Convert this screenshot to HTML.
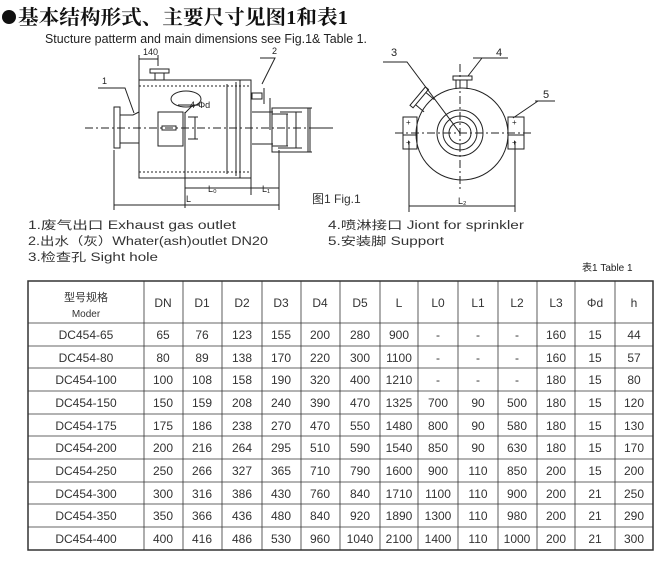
<!DOCTYPE html>
<html><head><meta charset="utf-8"><style>
html,body{margin:0;padding:0;background:#fff;}
body{width:655px;height:564px;position:relative;overflow:hidden;font-family:"Liberation Sans","Noto Sans CJK SC",sans-serif;color:#222;}
svg{position:absolute;left:0;top:0;}
</style></head><body>
<svg width="655" height="564" viewBox="0 0 655 564" xmlns="http://www.w3.org/2000/svg" font-family="Liberation Sans, Noto Sans CJK SC, sans-serif">
<circle cx="9" cy="17" r="7" fill="#111"/>
<text x="18" y="24" font-family="Liberation Serif, Noto Serif CJK SC, serif" font-weight="bold" font-size="20" fill="#111" textLength="330" lengthAdjust="spacingAndGlyphs">基本结构形式、主要尺寸见图1和表1</text>
<text x="45" y="43" font-size="12.5" fill="#222" textLength="322" lengthAdjust="spacingAndGlyphs">Stucture patterm and main dimensions see Fig.1&amp; Table 1.</text>

<g stroke="#222" stroke-width="1" fill="none">
<line x1="85" y1="128" x2="334" y2="128" stroke-dasharray="8,3,2,3"/>
<rect x="139" y="80" width="112" height="98"/>
<line x1="139" y1="86" x2="251" y2="86" stroke-dasharray="2,2"/>
<line x1="139" y1="172" x2="251" y2="172" stroke-dasharray="2,2"/>
<line x1="240" y1="80" x2="240" y2="178"/>
<rect x="150" y="69" width="19" height="4"/>
<line x1="155" y1="73" x2="155" y2="80"/><line x1="164" y1="73" x2="164" y2="80"/>
<line x1="139" y1="55" x2="139" y2="80"/><line x1="158" y1="55" x2="158" y2="66"/>
<line x1="139" y1="59" x2="158" y2="59"/>
<rect x="114" y="107" width="6" height="41"/>
<path d="M120 115 L133 115 L139 112 M120 143 L139 143"/>
<ellipse cx="186" cy="99" rx="15" ry="8"/>
<rect x="158" y="112" width="25" height="34"/>
<rect x="162" y="126" width="14" height="4"/>
<line x1="185" y1="112" x2="185" y2="208"/>
<line x1="188" y1="117" x2="198" y2="117"/><line x1="188" y1="139" x2="198" y2="139"/>
<line x1="195" y1="117" x2="195" y2="139"/>
<rect x="252" y="93" width="10" height="6"/>
<line x1="264" y1="88" x2="264" y2="104"/>
<line x1="270" y1="98" x2="270" y2="130"/>
<line x1="252" y1="112" x2="273" y2="112"/>
<line x1="252" y1="144" x2="273" y2="144"/>
<rect x="272" y="108" width="36" height="44"/>
<path d="M272 114 L288 114 M272 146 L288 146 M280 112 L302 112 M278 148 L302 148 M300 108 L312 108 M300 152 L312 152"/>
<line x1="287" y1="114" x2="287" y2="146"/><line x1="296" y1="112" x2="296" y2="148"/><line x1="310" y1="108" x2="310" y2="152"/>
<line x1="227" y1="84" x2="227" y2="174"/><line x1="236" y1="82" x2="236" y2="176"/>
<line x1="251" y1="178" x2="251" y2="195"/>
<line x1="185" y1="188" x2="279" y2="188"/>
<line x1="279" y1="150" x2="279" y2="210"/>
<line x1="114" y1="150" x2="114" y2="210"/>
<line x1="114" y1="205" x2="279" y2="205"/>
<path d="M98 88 L125 88 L134 113"/>
<path d="M260 58 L275 58 L262 84"/>
<path d="M178 105 L200 105 M185 113 L193 105"/>
<line x1="312" y1="128" x2="330" y2="128"/>

<line x1="395" y1="133" x2="532" y2="133" stroke-dasharray="8,3,2,3"/>
<line x1="460" y1="64" x2="460" y2="190" stroke-dasharray="8,3,2,3"/>
<circle cx="462" cy="134" r="46"/>
<circle cx="460" cy="133" r="23"/>
<circle cx="460" cy="133" r="17"/>
<circle cx="460" cy="133" r="11"/>
<rect x="403" y="117" width="14" height="32"/>
<rect x="508" y="117" width="16" height="32"/>
<line x1="403" y1="135" x2="417" y2="135"/><line x1="508" y1="135" x2="524" y2="135"/>
<rect x="453" y="76" width="19" height="4"/>
<line x1="456" y1="80" x2="456" y2="89"/><line x1="467" y1="80" x2="467" y2="89"/>
<g transform="rotate(-50 420 98)"><rect x="408" y="95" width="24" height="4"/><line x1="412" y1="99" x2="412" y2="110"/><line x1="428" y1="99" x2="428" y2="110"/></g>
<path d="M383 62 L407 62 L460 133"/>
<path d="M473 58 L508 58 M482 58 L468 76"/>
<path d="M535 101 L555 101 M538 101 L513 118"/>
<line x1="409" y1="141" x2="409" y2="212"/><line x1="515" y1="141" x2="515" y2="212"/>
<line x1="409" y1="206" x2="515" y2="206"/>
</g>
<g font-size="9" fill="#222">
<text x="143" y="55">140</text>
<text x="102" y="84">1</text>
<text x="272" y="54">2</text>
<text x="190" y="108">4-Φd</text>
<text x="208" y="192">L₀</text>
<text x="262" y="192">L₁</text>
<text x="186" y="202">L</text>
<text x="391" y="56" font-size="11">3</text>
<text x="496" y="56" font-size="11">4</text>
<text x="543" y="98" font-size="11">5</text>
<text x="458" y="204">L₂</text>
<text x="406" y="125" font-size="8">+</text><text x="406" y="145" font-size="8">+</text>
<text x="512" y="125" font-size="8">+</text><text x="512" y="145" font-size="8">+</text>
</g>
<text x="312" y="203" font-size="12" fill="#333">图1  Fig.1</text>
<g font-size="11.5" fill="#333">
<text x="28" y="229" textLength="208" lengthAdjust="spacingAndGlyphs">1.废气出口 Exhaust gas outlet</text>
<text x="28" y="245" textLength="240" lengthAdjust="spacingAndGlyphs">2.出水（灰）Whater(ash)outlet DN20</text>
<text x="28" y="261" textLength="130" lengthAdjust="spacingAndGlyphs">3.检查孔 Sight hole</text>
<text x="328" y="229" textLength="196" lengthAdjust="spacingAndGlyphs">4.喷淋接口 Jiont for sprinkler</text>
<text x="328" y="245" textLength="116" lengthAdjust="spacingAndGlyphs">5.安装脚 Support</text>
</g>
<text x="582" y="271" font-size="10" fill="#222">表1 Table 1</text>

<g stroke="#333" fill="none">
<rect x="28" y="281" width="625" height="269" stroke-width="1.5"/>
<g stroke-width="0.8">
<line x1="28" y1="323" x2="653" y2="323"/>
<line x1="28" y1="346" x2="653" y2="346"/>
<line x1="28" y1="368" x2="653" y2="368"/>
<line x1="28" y1="391" x2="653" y2="391"/>
<line x1="28" y1="414" x2="653" y2="414"/>
<line x1="28" y1="436" x2="653" y2="436"/>
<line x1="28" y1="459" x2="653" y2="459"/>
<line x1="28" y1="482" x2="653" y2="482"/>
<line x1="28" y1="504" x2="653" y2="504"/>
<line x1="28" y1="527" x2="653" y2="527"/>
<line x1="144" y1="281" x2="144" y2="550"/>
<line x1="183" y1="281" x2="183" y2="550"/>
<line x1="222" y1="281" x2="222" y2="550"/>
<line x1="262" y1="281" x2="262" y2="550"/>
<line x1="301" y1="281" x2="301" y2="550"/>
<line x1="340" y1="281" x2="340" y2="550"/>
<line x1="380" y1="281" x2="380" y2="550"/>
<line x1="418" y1="281" x2="418" y2="550"/>
<line x1="458" y1="281" x2="458" y2="550"/>
<line x1="498" y1="281" x2="498" y2="550"/>
<line x1="537" y1="281" x2="537" y2="550"/>
<line x1="575" y1="281" x2="575" y2="550"/>
<line x1="615" y1="281" x2="615" y2="550"/>
</g></g>
<g font-size="12" fill="#333" text-anchor="middle">
<text x="86" y="301" font-size="11">型号规格</text>
<text x="86" y="317" font-size="10">Moder</text>
<g transform="translate(0,307)">
<text x="163">DN</text><text x="202">D1</text><text x="242">D2</text><text x="281">D3</text><text x="320">D4</text><text x="360">D5</text><text x="399">L</text><text x="438">L0</text><text x="478">L1</text><text x="517">L2</text><text x="556">L3</text><text x="595">Φd</text><text x="634">h</text>
</g>
<g transform="translate(0,339)"><text x="86">DC454-65</text><text x="163">65</text><text x="202">76</text><text x="242">123</text><text x="281">155</text><text x="320">200</text><text x="360">280</text><text x="399">900</text><text x="438">-</text><text x="478">-</text><text x="517">-</text><text x="556">160</text><text x="595">15</text><text x="634">44</text></g>
<g transform="translate(0,362)"><text x="86">DC454-80</text><text x="163">80</text><text x="202">89</text><text x="242">138</text><text x="281">170</text><text x="320">220</text><text x="360">300</text><text x="399">1100</text><text x="438">-</text><text x="478">-</text><text x="517">-</text><text x="556">160</text><text x="595">15</text><text x="634">57</text></g>
<g transform="translate(0,384)"><text x="86">DC454-100</text><text x="163">100</text><text x="202">108</text><text x="242">158</text><text x="281">190</text><text x="320">320</text><text x="360">400</text><text x="399">1210</text><text x="438">-</text><text x="478">-</text><text x="517">-</text><text x="556">180</text><text x="595">15</text><text x="634">80</text></g>
<g transform="translate(0,407)"><text x="86">DC454-150</text><text x="163">150</text><text x="202">159</text><text x="242">208</text><text x="281">240</text><text x="320">390</text><text x="360">470</text><text x="399">1325</text><text x="438">700</text><text x="478">90</text><text x="517">500</text><text x="556">180</text><text x="595">15</text><text x="634">120</text></g>
<g transform="translate(0,430)"><text x="86">DC454-175</text><text x="163">175</text><text x="202">186</text><text x="242">238</text><text x="281">270</text><text x="320">470</text><text x="360">550</text><text x="399">1480</text><text x="438">800</text><text x="478">90</text><text x="517">580</text><text x="556">180</text><text x="595">15</text><text x="634">130</text></g>
<g transform="translate(0,452)"><text x="86">DC454-200</text><text x="163">200</text><text x="202">216</text><text x="242">264</text><text x="281">295</text><text x="320">510</text><text x="360">590</text><text x="399">1540</text><text x="438">850</text><text x="478">90</text><text x="517">630</text><text x="556">180</text><text x="595">15</text><text x="634">170</text></g>
<g transform="translate(0,475)"><text x="86">DC454-250</text><text x="163">250</text><text x="202">266</text><text x="242">327</text><text x="281">365</text><text x="320">710</text><text x="360">790</text><text x="399">1600</text><text x="438">900</text><text x="478">110</text><text x="517">850</text><text x="556">200</text><text x="595">15</text><text x="634">200</text></g>
<g transform="translate(0,498)"><text x="86">DC454-300</text><text x="163">300</text><text x="202">316</text><text x="242">386</text><text x="281">430</text><text x="320">760</text><text x="360">840</text><text x="399">1710</text><text x="438">1100</text><text x="478">110</text><text x="517">900</text><text x="556">200</text><text x="595">21</text><text x="634">250</text></g>
<g transform="translate(0,520)"><text x="86">DC454-350</text><text x="163">350</text><text x="202">366</text><text x="242">436</text><text x="281">480</text><text x="320">840</text><text x="360">920</text><text x="399">1890</text><text x="438">1300</text><text x="478">110</text><text x="517">980</text><text x="556">200</text><text x="595">21</text><text x="634">290</text></g>
<g transform="translate(0,543)"><text x="86">DC454-400</text><text x="163">400</text><text x="202">416</text><text x="242">486</text><text x="281">530</text><text x="320">960</text><text x="360">1040</text><text x="399">2100</text><text x="438">1400</text><text x="478">110</text><text x="517">1000</text><text x="556">200</text><text x="595">21</text><text x="634">300</text></g>
</g>
</svg>
</body></html>
